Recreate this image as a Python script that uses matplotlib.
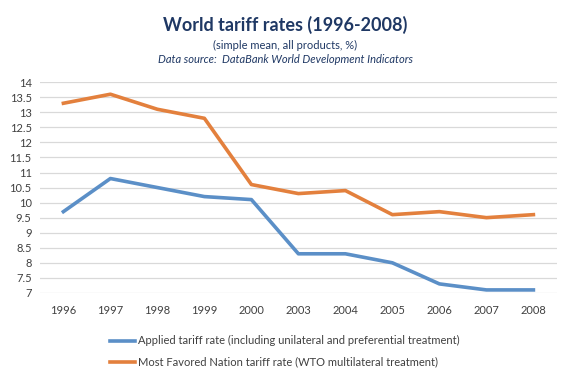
import numpy as np
import matplotlib.pyplot as plt

# Datos
years = ['1996', '1997', '1998', '1999', '2000', '2003', '2004', '2005', '2006', '2007', '2008']
applied = [9.7, 10.8, 10.5, 10.2, 10.1, 8.3, 8.3, 8.0, 7.3, 7.1, 7.1]
mfn = [13.3, 13.6, 13.1, 12.8, 10.6, 10.3, 10.4, 9.6, 9.7, 9.5, 9.6]
yticks = np.arange(7, 14.01, 0.5)

plt.rcParams['font.family'] = ['Lato', 'DejaVu Sans']

fig = plt.figure(figsize=(5.7, 3.77), dpi=100)
ax = fig.add_axes([0.070, 0.223, 0.907, 0.559])

x = np.arange(len(years))
l1, = ax.plot(x, applied, color='#5B8FC7', linewidth=2.6,
              label='Applied tariff rate (including unilateral and preferential treatment)')
l2, = ax.plot(x, mfn, color='#E3803D', linewidth=2.6,
              label='Most Favored Nation tariff rate (WTO multilateral treatment)')

ax.set_xlim(-0.5, len(years) - 0.5)
ax.set_ylim(7, 14)
ax.set_yticks(yticks)
ax.set_yticklabels([f'{v:g}' for v in yticks])
ax.set_xticks(x)
ax.set_xticklabels(years)
ax.tick_params(length=0, labelsize=8, colors='#404040', pad=6)
ax.tick_params(axis='x', pad=9)
ax.grid(axis='y', color='#D9D9D9', linewidth=0.9)
ax.set_axisbelow(True)
for s in ax.spines.values():
    s.set_visible(False)

fig.text(0.5, 0.918, 'World tariff rates (1996-2008)', ha='center', fontsize=13,
         fontweight='bold', color='#1F3864')
fig.text(0.5, 0.870, '(simple mean, all products, %)', ha='center', fontsize=8,
         color='#1F3864')
fig.text(0.5, 0.832, 'Data source:  DataBank World Development Indicators', ha='center',
         fontsize=8, style='italic', color='#1F3864')

fig.legend(handles=[l1, l2], loc='upper center', bbox_to_anchor=(0.5, 0.137),
           ncol=1, frameon=False, fontsize=8, handlelength=2.2, handletextpad=0.3,
           labelspacing=0.9, labelcolor='#404040')

fig.savefig('out.png', dpi=100)
